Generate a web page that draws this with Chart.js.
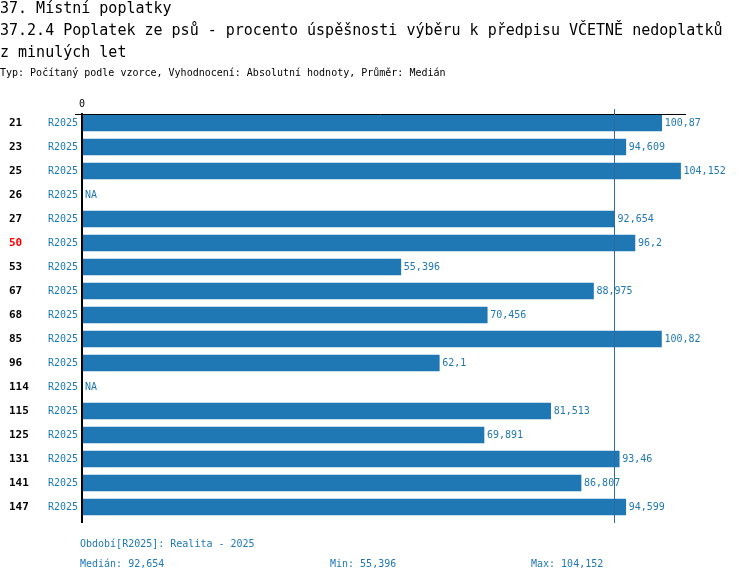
<!DOCTYPE html>
<html>
<head>
<meta charset="utf-8">
<script src="https://cdn.jsdelivr.net/npm/chart.js@4"></script>
<style>
  body { margin: 0; background: #fff; }
  #wrap { position: relative; width: 750px; height: 582px; }
</style>
</head>
<body>
<div id="wrap"><canvas id="chart"></canvas></div>
<script>
var categories = ["21", "23", "25", "26", "27", "50", "53", "67", "68", "85", "96", "114", "115", "125", "131", "141", "147"];
var periods = ["R2025", "R2025", "R2025", "R2025", "R2025", "R2025", "R2025", "R2025", "R2025", "R2025", "R2025", "R2025", "R2025", "R2025", "R2025", "R2025", "R2025"];
var values = [100.87, 94.609, 104.152, null, 92.654, 96.2, 55.396, 88.975, 70.456, 100.82, 62.1, null, 81.513, 69.891, 93.46, 86.807, 94.599];
var highlighted = ["50"];
var median = 92.654;
var minValue = 55.396;
var maxValue = 104.152;

var titleLines = [
  "37. Místní poplatky",
  "37.2.4 Poplatek ze psů - procento úspěšnosti výběru k předpisu VČETNĚ nedoplatků",
  "z minulých let"
];
var subtitle = "Typ: Počítaný podle vzorce, Vyhodnocení: Absolutní hodnoty, Průměr: Medián";
var footnote = "Období[R2025]: Realita - 2025";

var blue = "#1f77b4";
var mono = "'DejaVu Sans Mono', monospace";

function fmt(v) {
  return String(v).replace(".", ",");
}

var decorations = {
  id: "decorations",
  afterDatasetsDraw: function(chart) {
    var ctx = chart.ctx;
    var x = chart.scales.x;
    var y = chart.scales.y;
    var area = chart.chartArea;
    ctx.save();

    // titles
    ctx.fillStyle = "#000";
    ctx.textBaseline = "middle";
    ctx.textAlign = "left";
    ctx.font = "15px " + mono;
    titleLines.forEach(function(t, i) {
      ctx.fillText(t, 0, 9 + i * 22);
    });
    ctx.font = "10px " + mono;
    ctx.fillText(subtitle, 0, 73);

    // axes
    var x0 = x.getPixelForValue(0);
    var xm = x.getPixelForValue(median);
    ctx.strokeStyle = "#000";
    ctx.lineWidth = 1;
    ctx.beginPath();
    ctx.moveTo(75, 114.5);
    ctx.lineTo(area.right, 114.5);
    ctx.stroke();
    ctx.lineWidth = 2;
    ctx.beginPath();
    ctx.moveTo(x0 - 1, 113);
    ctx.lineTo(x0 - 1, area.bottom + 4);
    ctx.stroke();
    ctx.font = "10px " + mono;
    ctx.textAlign = "center";
    ctx.fillStyle = "#000";
    ctx.fillText("0", x0 - 1, 104);

    // median line
    ctx.strokeStyle = "#2b6c9c";
    ctx.lineWidth = 1;
    ctx.beginPath();
    ctx.moveTo(Math.round(xm) - 0.5, 109);
    ctx.lineTo(Math.round(xm) - 0.5, area.bottom + 4);
    ctx.stroke();

    // row labels and values
    categories.forEach(function(c, i) {
      var py = y.getPixelForValue(i);
      ctx.textAlign = "left";
      ctx.font = "bold 11px " + mono;
      ctx.fillStyle = highlighted.indexOf(c) >= 0 ? "#ff0000" : "#000";
      ctx.fillText(c, 9, py);
      ctx.font = "10px " + mono;
      ctx.fillStyle = blue;
      ctx.textAlign = "right";
      ctx.fillText(periods[i], 78, py);
      ctx.textAlign = "left";
      var v = values[i];
      if (v === null) {
        ctx.fillText("NA", x0 + 2, py);
      } else {
        ctx.fillText(fmt(v), x.getPixelForValue(v) + 3, py);
      }
    });

    // footer
    ctx.fillStyle = blue;
    ctx.textAlign = "left";
    ctx.font = "10px " + mono;
    ctx.fillText(footnote, 80, 544);
    ctx.fillText("Medián: " + fmt(median), 80, 564);
    ctx.fillText("Min: " + fmt(minValue), 330, 564);
    ctx.fillText("Max: " + fmt(maxValue), 531, 564);
    ctx.restore();
  }
};

new Chart(document.getElementById("chart").getContext("2d"), {
  type: "bar",
  data: {
    labels: categories,
    datasets: [{
      data: values,
      backgroundColor: blue,
      borderWidth: 0,
      barThickness: 16
    }]
  },
  options: {
    indexAxis: "y",
    responsive: true,
    maintainAspectRatio: false,
    animation: false,
    layout: { padding: { left: 83, right: 64, top: 111, bottom: 63 } },
    plugins: {
      legend: { display: false },
      tooltip: { enabled: false },
      title: { display: false }
    },
    scales: {
      x: { display: false, min: 0, max: 105.1 },
      y: { display: false }
    }
  },
  plugins: [decorations]
});
</script>
</body>
</html>
